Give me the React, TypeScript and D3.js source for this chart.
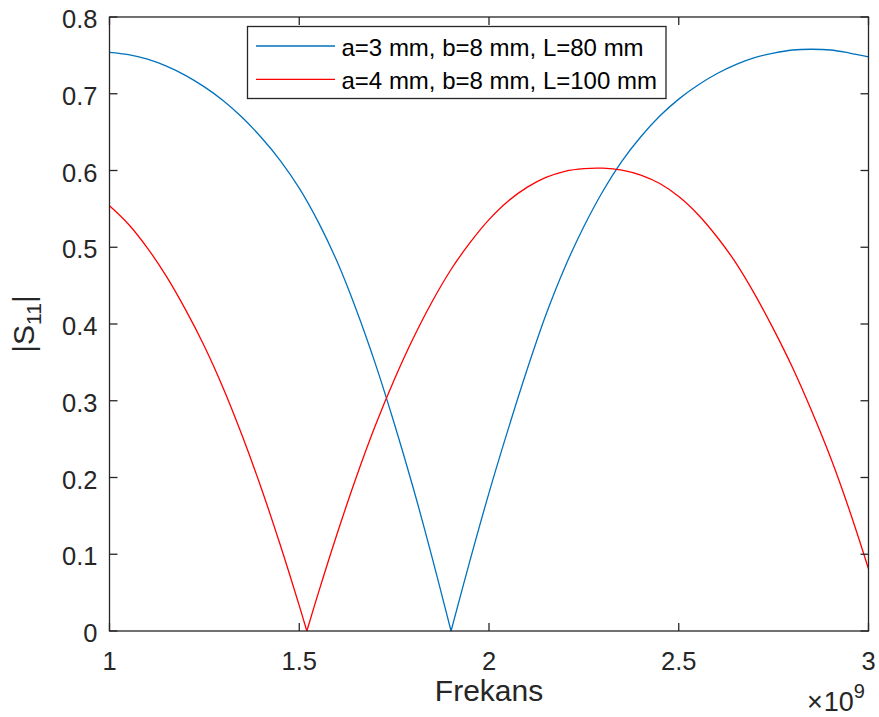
import { useEffect, useRef } from "react";
import * as d3 from "d3";

// frequency in GHz (axis shows x 10^9)
const freqA = [
  1.0, 1.05, 1.1, 1.15, 1.2, 1.25, 1.3, 1.35, 1.4, 1.45, 1.5, 1.55, 1.6, 1.65,
  1.7, 1.75, 1.8, 1.85, 1.9, 1.95, 2.0, 2.05, 2.1, 2.15, 2.2, 2.25, 2.3, 2.35,
  2.4, 2.45, 2.5, 2.55, 2.6, 2.65, 2.7, 2.75, 2.8, 2.85, 2.9, 2.95, 3.0,
];
const s11A = [
  0.754, 0.751, 0.745, 0.736, 0.724, 0.709, 0.691, 0.669, 0.643, 0.613, 0.577,
  0.533, 0.481, 0.419, 0.349, 0.271, 0.187, 0.096, 0.0, 0.092, 0.18, 0.262,
  0.34, 0.412, 0.474, 0.527, 0.573, 0.612, 0.644, 0.671, 0.693, 0.711, 0.726,
  0.738, 0.747, 0.753, 0.757, 0.758, 0.757, 0.753, 0.748,
];

const freqB = [
  1.0, 1.05, 1.1, 1.15, 1.2, 1.25, 1.3, 1.35, 1.4, 1.45, 1.5, 1.52, 1.55, 1.6,
  1.65, 1.7, 1.75, 1.8, 1.85, 1.9, 1.95, 2.0, 2.05, 2.1, 2.15, 2.2, 2.25, 2.3,
  2.35, 2.4, 2.45, 2.5, 2.55, 2.6, 2.65, 2.7, 2.75, 2.8, 2.85, 2.9, 2.95, 3.0,
];
const s11B = [
  0.554, 0.53, 0.499, 0.462, 0.419, 0.371, 0.316, 0.254, 0.186, 0.112, 0.033,
  0.0, 0.049, 0.127, 0.2, 0.267, 0.327, 0.381, 0.429, 0.471, 0.506, 0.536,
  0.56, 0.578, 0.591, 0.599, 0.6025, 0.603, 0.6005, 0.594, 0.583, 0.566, 0.543,
  0.514, 0.48, 0.439, 0.393, 0.343, 0.287, 0.226, 0.157, 0.081,
];

const legendLabels = ["a=3 mm, b=8 mm, L=80 mm", "a=4 mm, b=8 mm, L=100 mm"];
const colors = ["#0072BD", "#FF0000"];

const xTicks = [1, 1.5, 2, 2.5, 3];
const yTicks = [0, 0.1, 0.2, 0.3, 0.4, 0.5, 0.6, 0.7, 0.8];

const font = "Liberation Sans, Arial, Helvetica, sans-serif";
const axisColor = "#262626";

export default function App() {
  const svgRef = useRef<SVGSVGElement>(null);

  useEffect(() => {
    if (!svgRef.current) return;
    document.body.style.margin = "0";

    const svg = d3.select(svgRef.current);
    svg.selectAll("*").remove();

    const left = 109.5;
    const right = 868.5;
    const top = 17;
    const bottom = 631;
    const tick = 8;

    const x = d3.scaleLinear().domain([1, 3]).range([left, right]);
    const y = d3.scaleLinear().domain([0, 0.8]).range([bottom, top]);

    svg
      .append("rect")
      .attr("x", 0)
      .attr("y", 0)
      .attr("width", 879)
      .attr("height", 717)
      .attr("fill", "#fff");

    // curves, split at the minimum so the notch stays sharp
    const line = d3
      .line<[number, number]>()
      .x((d) => x(d[0]))
      .y((d) => y(d[1]))
      .curve(d3.curveCatmullRom.alpha(0.5));

    const series = [
      { f: freqA, v: s11A },
      { f: freqB, v: s11B },
    ];

    series.forEach((s, i) => {
      const pts: [number, number][] = s.f.map((f, k) => [f, s.v[k]]);
      const minIdx = d3.minIndex(s.v);
      const pieces = [pts.slice(0, minIdx + 1), pts.slice(minIdx)];
      pieces.forEach((p) => {
        svg
          .append("path")
          .attr("d", line(p))
          .attr("fill", "none")
          .attr("stroke", colors[i])
          .attr("stroke-width", 1.3);
      });
    });

    // axes box
    svg
      .append("rect")
      .attr("x", left)
      .attr("y", top)
      .attr("width", right - left)
      .attr("height", bottom - top)
      .attr("fill", "none")
      .attr("stroke", axisColor)
      .attr("stroke-width", 1.3);

    const g = svg.append("g").attr("stroke", axisColor).attr("stroke-width", 1.3);

    xTicks.forEach((t) => {
      g.append("line")
        .attr("x1", x(t))
        .attr("x2", x(t))
        .attr("y1", bottom)
        .attr("y2", bottom - tick);
      g.append("line")
        .attr("x1", x(t))
        .attr("x2", x(t))
        .attr("y1", top)
        .attr("y2", top + tick);
    });
    yTicks.forEach((t) => {
      g.append("line")
        .attr("x1", left)
        .attr("x2", left + tick)
        .attr("y1", y(t))
        .attr("y2", y(t));
      g.append("line")
        .attr("x1", right)
        .attr("x2", right - tick)
        .attr("y1", y(t))
        .attr("y2", y(t));
    });

    const labels = svg
      .append("g")
      .attr("font-family", font)
      .attr("fill", axisColor)
      .attr("font-size", 25.5);

    labels
      .selectAll("text.xt")
      .data(xTicks)
      .enter()
      .append("text")
      .attr("x", (d) => x(d))
      .attr("y", 670)
      .attr("text-anchor", "middle")
      .text((d) => d3.format("")(d));

    labels
      .selectAll("text.yt")
      .data(yTicks)
      .enter()
      .append("text")
      .attr("x", 97.5)
      .attr("y", (d) => y(d) + 11)
      .attr("text-anchor", "end")
      .text((d) => (d === 0 ? "0" : d3.format(".1f")(d)));

    // exponent
    const exp = labels
      .append("text")
      .attr("x", 807)
      .attr("y", 711)
      .attr("font-size", 27);
    exp.append("tspan").text("\u00d7");
    exp.append("tspan").attr("dx", 1).text("10");
    exp
      .append("tspan")
      .attr("font-size", 20)
      .attr("dy", -13)
      .text("9");

    // axis labels
    labels
      .append("text")
      .attr("x", (left + right) / 2)
      .attr("y", 701)
      .attr("text-anchor", "middle")
      .attr("font-size", 30)
      .text("Frekans");

    const yl = labels
      .append("text")
      .attr("transform", `translate(34, ${(top + bottom) / 2}) rotate(-90)`)
      .attr("text-anchor", "middle")
      .attr("font-size", 30);
    yl.append("tspan").text("|S");
    yl.append("tspan").attr("font-size", 21).attr("dy", 7).text("11");
    yl.append("tspan").attr("dy", -7).text("|");

    // legend
    const lg = svg.append("g");
    lg.append("rect")
      .attr("x", 247.5)
      .attr("y", 26.5)
      .attr("width", 418.5)
      .attr("height", 72)
      .attr("fill", "#fff")
      .attr("stroke", axisColor)
      .attr("stroke-width", 1.3);

    legendLabels.forEach((lab, i) => {
      const cy = 46 + i * 33.3;
      lg.append("line")
        .attr("x1", 256)
        .attr("x2", 335)
        .attr("y1", cy)
        .attr("y2", cy)
        .attr("stroke", colors[i])
        .attr("stroke-width", 1.3);
      lg.append("text")
        .attr("x", 341.5)
        .attr("y", cy + 9.5)
        .attr("font-family", font)
        .attr("font-size", 24)
        .attr("fill", "#000")
        .text(lab);
    });
  }, []);

  return (
    <svg
      ref={svgRef}
      width={879}
      height={717}
      style={{ display: "block" }}
    />
  );
}
